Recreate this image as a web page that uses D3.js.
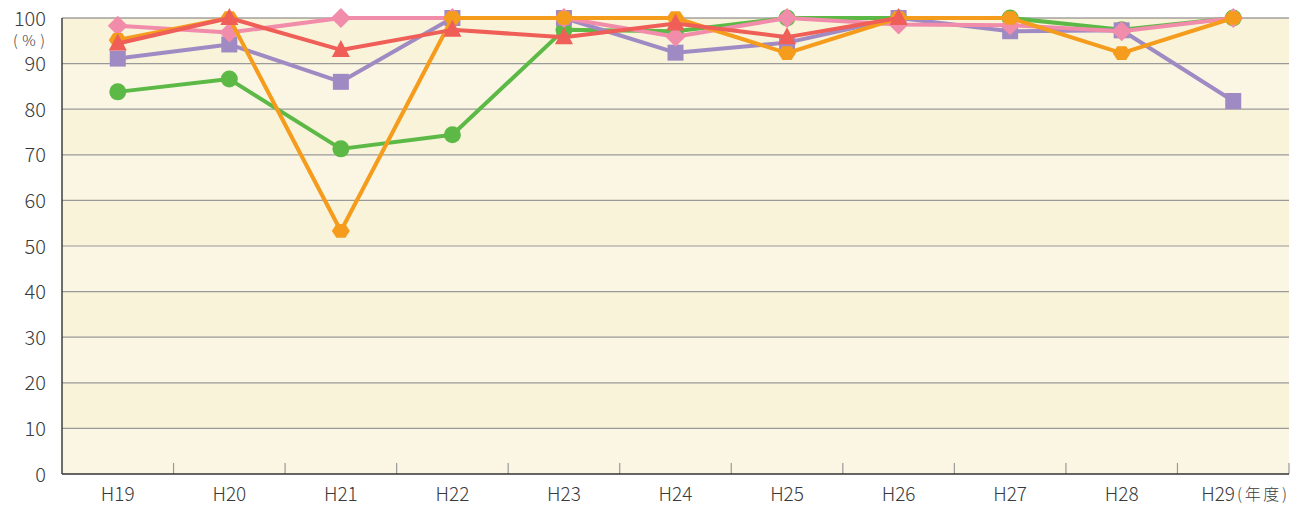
<!DOCTYPE html>
<html>
<head>
<meta charset="utf-8">
<script src="https://d3js.org/d3.v7.min.js"></script>
<style>
  body { margin: 0; background: #fff; }
  text { font-family: "Noto Sans CJK JP", "Noto Sans", sans-serif; fill: #3a3a3a; font-weight: 300; }
</style>
</head>
<body>
<svg id="chart" width="1290" height="507"></svg>
<script>
const years = ['H19', 'H20', 'H21', 'H22', 'H23', 'H24', 'H25', 'H26', 'H27', 'H28', 'H29'];
const yTicks = [0, 10, 20, 30, 40, 50, 60, 70, 80, 90, 100];

// series values (%), null = no data
const greenVals  = [83.8, 86.6, 71.3, 74.4, 97.4, 97.1, 100, 100, 100, 97.4, 100];
const purpleVals = [91.1, 94.2, 86.0, 100, 100, 92.4, 94.6, 100, 97.1, 97.3, 81.8];
const pinkVals   = [98.3, 96.8, 100, 100, 100, 95.9, 100, 98.6, 98.4, 97.1, 100];
const orangeVals = [95.2, 100, 53.3, 100, 100, 100, 92.3, 100, 100, 92.3, 100];
const redVals    = [94.4, 100, 93.0, 97.4, 95.8, 98.8, 95.8, 100, null, null, null];

const series = [
  { vals: greenVals,  color: '#5cb946', shape: 'circle' },
  { vals: purpleVals, color: '#a08ac4', shape: 'square' },
  { vals: pinkVals,   color: '#f28cab', shape: 'diamond' },
  { vals: orangeVals, color: '#f59c1d', shape: 'hexagon' },
  { vals: redVals,    color: '#ef5e57', shape: 'triangle' }
];

const svg = d3.select('#chart');
const plotL = 62, plotR = 1289, plotT = 18, plotB = 474;

const x = d3.scaleBand().domain(years).range([plotL, plotR]);
const y = d3.scaleLinear().domain([0, 100]).range([plotB, plotT]);

// alternating background bands
svg.append('g').selectAll('rect')
  .data(yTicks.slice(0, -1))
  .enter().append('rect')
  .attr('x', plotL)
  .attr('width', plotR - plotL)
  .attr('y', d => y(d + 10))
  .attr('height', d => y(d) - y(d + 10))
  .attr('fill', (d, i) => i % 2 === 0 ? '#faf6e3' : '#f8f3d9');

// gridlines
svg.append('g').selectAll('line')
  .data(yTicks.slice(1))
  .enter().append('line')
  .attr('x1', plotL).attr('x2', plotR)
  .attr('y1', d => y(d)).attr('y2', d => y(d))
  .attr('stroke', d => d === 100 ? '#777' : '#9a9a9a')
  .attr('stroke-width', 1.2);

// category separator ticks
svg.append('g').selectAll('line')
  .data(years)
  .enter().append('line')
  .attr('x1', d => x(d) + x.bandwidth()).attr('x2', d => x(d) + x.bandwidth())
  .attr('y1', plotB).attr('y2', plotB - 11)
  .attr('stroke', '#999').attr('stroke-width', 1.2);

// axes lines
svg.append('line')
  .attr('x1', plotL).attr('x2', plotL).attr('y1', plotT).attr('y2', plotB)
  .attr('stroke', '#333').attr('stroke-width', 1.4);
svg.append('line')
  .attr('x1', plotL).attr('x2', plotR).attr('y1', plotB).attr('y2', plotB)
  .attr('stroke', '#333').attr('stroke-width', 1.4);

// y labels
svg.append('g').selectAll('text')
  .data(yTicks)
  .enter().append('text')
  .attr('x', 46)
  .attr('y', d => y(d) + 7.5)
  .attr('text-anchor', 'end')
  .attr('font-size', 20)
  .text(d => d);
svg.append('text')
  .attr('x', 29).attr('y', 46)
  .attr('text-anchor', 'middle')
  .attr('font-size', 15)
  .attr('textLength', 32)
  .text('(%)');

// x labels
svg.append('g').selectAll('text')
  .data(years)
  .enter().append('text')
  .attr('x', d => d === 'H29' ? 1235 : x(d) + x.bandwidth() / 2)
  .attr('y', 501)
  .attr('text-anchor', d => d === 'H29' ? 'end' : 'middle')
  .attr('font-size', 19)
  .text(d => d);
svg.append('text')
  .attr('x', 1237).attr('y', 500)
  .attr('font-size', 16)
  .attr('textLength', 50)
  .text('(年度)');

const cx = i => x(years[i]) + x.bandwidth() / 2;

const hexagon = r => d3.range(6).map(k => {
  const a = Math.PI / 3 * k;
  return [r * Math.cos(a), r * 0.88 * Math.sin(a)];
});

series.forEach(s => {
  const pts = s.vals.map((v, i) => ({ v, i })).filter(p => p.v !== null);
  const line = d3.line()
    .x(p => cx(p.i))
    .y(p => y(p.v));
  const g = svg.append('g');
  g.append('path')
    .datum(pts)
    .attr('d', line)
    .attr('fill', 'none')
    .attr('stroke', s.color)
    .attr('stroke-width', 4)
    .attr('stroke-linejoin', 'round');

  const m = g.selectAll('.m').data(pts).enter();
  if (s.shape === 'circle') {
    m.append('circle')
      .attr('cx', p => cx(p.i)).attr('cy', p => y(p.v))
      .attr('r', 8.5).attr('fill', s.color);
  } else if (s.shape === 'square') {
    m.append('rect')
      .attr('x', p => cx(p.i) - 8).attr('y', p => y(p.v) - 8)
      .attr('width', 16).attr('height', 16).attr('fill', s.color);
  } else if (s.shape === 'diamond') {
    m.append('path')
      .attr('transform', p => `translate(${cx(p.i)},${y(p.v)})`)
      .attr('d', 'M0,-10L10,0L0,10L-10,0Z').attr('fill', s.color);
  } else if (s.shape === 'hexagon') {
    m.append('polygon')
      .attr('transform', p => `translate(${cx(p.i)},${y(p.v)})`)
      .attr('points', hexagon(9).map(q => q.join(',')).join(' '))
      .attr('fill', s.color);
  } else {
    m.append('path')
      .attr('transform', p => `translate(${cx(p.i)},${y(p.v)})`)
      .attr('d', 'M0,-10L9,7L-9,7Z').attr('fill', s.color);
  }
});
</script>
</body>
</html>
